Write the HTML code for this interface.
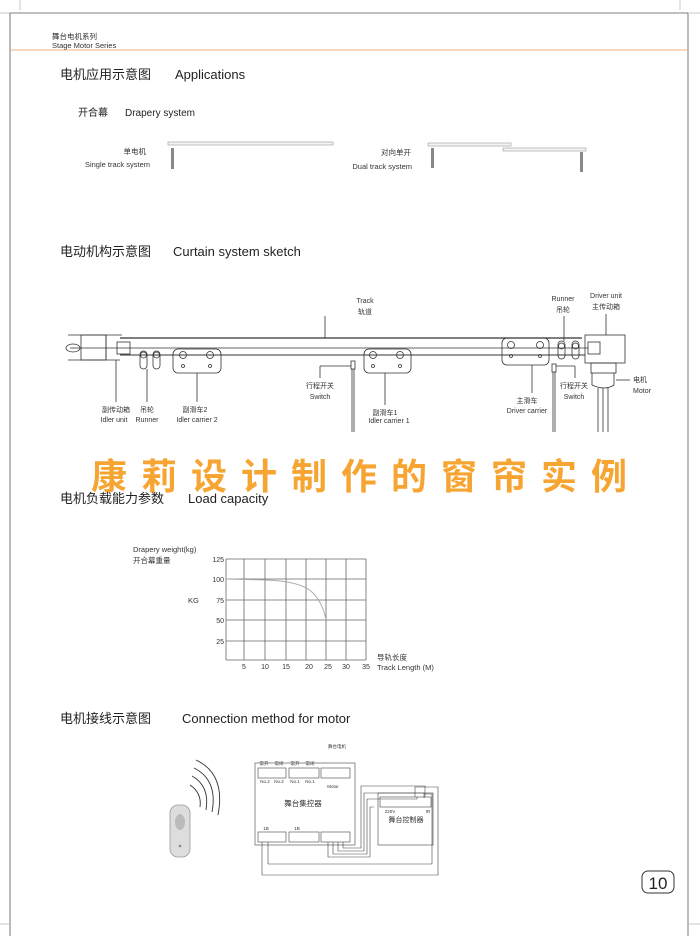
<!DOCTYPE html>
<html><head><meta charset="utf-8"><style>
html,body{margin:0;padding:0;background:#fff;}
svg{display:block;font-family:"Liberation Sans","Noto Sans CJK SC",sans-serif;}
</style></head><body>
<svg width="700" height="936" viewBox="0 0 700 936" xmlns="http://www.w3.org/2000/svg">
<rect width="700" height="936" fill="#fff"/>
<g stroke="#555" stroke-width="0.8" fill="none">
<line x1="10" y1="13" x2="688" y2="13"/>
<line x1="10" y1="13" x2="10" y2="936"/>
<line x1="688" y1="13" x2="688" y2="936"/>
<line x1="0" y1="13" x2="10" y2="13" stroke="#bbb"/>
<line x1="688" y1="13" x2="700" y2="13" stroke="#bbb"/>
<line x1="20" y1="0" x2="20" y2="10" stroke="#bbb"/>
<line x1="680" y1="0" x2="680" y2="10" stroke="#bbb"/>
<line x1="0" y1="924" x2="10" y2="924" stroke="#bbb"/>
<line x1="688" y1="924" x2="700" y2="924" stroke="#bbb"/>
</g>
<line x1="10" y1="50" x2="688" y2="50" stroke="#f2b27a" stroke-width="1"/>
<text x="52" y="39" font-size="7.5" fill="#333">舞台电机系列</text>
<text x="52" y="48" font-size="7.5" fill="#333">Stage Motor Series</text>

<text x="60" y="79" font-size="13" fill="#222">电机应用示意图</text>
<text x="175" y="79" font-size="13" fill="#222">Applications</text>
<text x="78" y="116" font-size="10" fill="#222">开合幕</text>
<text x="125" y="116" font-size="10" fill="#222">Drapery system</text>
<text x="146" y="154" font-size="7.5" fill="#333" text-anchor="end">单电机</text>
<text x="150" y="167" font-size="7.5" fill="#333" text-anchor="end">Single track system</text>
<rect x="168" y="142" width="165" height="3" fill="#f4f4f4" stroke="#999" stroke-width="0.6"/>
<rect x="171" y="148" width="3" height="21" fill="#888"/>
<text x="411" y="155" font-size="7.5" fill="#333" text-anchor="end">对向单开</text>
<text x="412" y="169" font-size="7.5" fill="#333" text-anchor="end">Dual track system</text>
<rect x="428" y="143" width="83" height="3" fill="#f4f4f4" stroke="#999" stroke-width="0.6"/>
<rect x="503" y="148" width="83" height="3" fill="#f4f4f4" stroke="#999" stroke-width="0.6"/>
<rect x="431" y="148" width="3" height="20" fill="#888"/>
<rect x="580" y="152" width="3" height="20" fill="#888"/>

<text x="60" y="256" font-size="13" fill="#222">电动机构示意图</text>
<text x="173" y="256" font-size="13" fill="#222">Curtain system sketch</text>
<g stroke="#333" stroke-width="0.8" fill="none">
<line x1="68" y1="335" x2="122" y2="335"/>
<line x1="120" y1="338" x2="582" y2="338" stroke-width="1.2"/>
<line x1="68" y1="360" x2="120" y2="360"/>
<line x1="120" y1="348" x2="588" y2="348"/>
<line x1="120" y1="355" x2="585" y2="355" stroke-width="1.1"/>
<line x1="70" y1="348" x2="120" y2="348"/>
<rect x="81" y="335" width="25" height="25"/>
<line x1="106" y1="335" x2="106" y2="360"/>
<ellipse cx="73" cy="348" rx="7" ry="4"/>
<rect x="117" y="342" width="13" height="12"/>
<rect x="585" y="335" width="40" height="28"/>
<rect x="588" y="342" width="12" height="12"/>
<rect x="591" y="363" width="25" height="10"/>
<path d="M592 373 v12 q13 6 22 0 v-12"/>
<line x1="598" y1="388" x2="598" y2="432"/><line x1="603" y1="388" x2="603" y2="432"/><line x1="608" y1="388" x2="608" y2="432"/>
<line x1="616" y1="380" x2="630" y2="380"/>
<rect x="140" y="351" width="7" height="18" rx="3.5"/><circle cx="143.5" cy="355" r="3"/>
<rect x="153" y="351" width="7" height="18" rx="3.5"/><circle cx="156.5" cy="355" r="3"/>
<rect x="173" y="349" width="48" height="24" rx="5"/><circle cx="183" cy="355" r="3.5"/><circle cx="210" cy="355" r="3.5"/><circle cx="183" cy="366" r="1.5"/><circle cx="210" cy="366" r="1.5"/>
<rect x="364" y="349" width="47" height="24" rx="5"/><circle cx="373" cy="355" r="3.5"/><circle cx="400" cy="355" r="3.5"/><circle cx="373" cy="366" r="1.5"/><circle cx="400" cy="366" r="1.5"/>
<rect x="502" y="338" width="47" height="27" rx="5"/><circle cx="511" cy="345" r="3.5"/><circle cx="540" cy="345" r="3.5"/><circle cx="511" cy="356" r="1.5"/><circle cx="540" cy="356" r="1.5"/>
<rect x="558" y="341" width="7" height="18" rx="3.5"/><circle cx="561.5" cy="346" r="3"/>
<rect x="572" y="341" width="7" height="18" rx="3.5"/><circle cx="575.5" cy="346" r="3"/>
<rect x="351" y="361" width="4" height="8"/><line x1="352" y1="369" x2="352" y2="432"/><line x1="354" y1="369" x2="354" y2="432"/>
<rect x="552" y="364" width="4" height="8"/><line x1="553" y1="372" x2="553" y2="432"/><line x1="555" y1="372" x2="555" y2="432"/>
<line x1="325" y1="316" x2="325" y2="338"/>
<line x1="116" y1="360" x2="116" y2="402"/>
<line x1="147" y1="369" x2="147" y2="402"/>
<line x1="197" y1="373" x2="197" y2="402"/>
<line x1="385" y1="373" x2="385" y2="405"/>
<line x1="532" y1="365" x2="532" y2="393"/>
<line x1="564" y1="316" x2="564" y2="341"/>
<line x1="606" y1="314" x2="606" y2="335"/>
<line x1="320" y1="366" x2="351" y2="366"/><line x1="320" y1="366" x2="320" y2="378"/>
<line x1="556" y1="366" x2="575" y2="366"/><line x1="575" y1="366" x2="575" y2="378"/>
</g>
<g font-size="7" fill="#333" text-anchor="middle">
<text x="365" y="303">Track</text><text x="365" y="314">轨道</text>
<text x="563" y="301">Runner</text><text x="563" y="312">吊轮</text>
<text x="606" y="298">Driver unit</text><text x="606" y="309">主传动箱</text>
<text x="640" y="382">电机</text><text x="642" y="393">Motor</text>
<text x="116" y="412">副传动箱</text><text x="114" y="422">Idler unit</text>
<text x="147" y="412">吊轮</text><text x="147" y="422">Runner</text>
<text x="195" y="412">副滑车2</text><text x="197" y="422">Idler carrier 2</text>
<text x="320" y="388">行程开关</text><text x="320" y="399">Switch</text>
<text x="385" y="415">副滑车1</text><text x="389" y="423">Idler carrier 1</text>
<text x="527" y="403">主滑车</text><text x="527" y="413">Driver carrier</text>
<text x="574" y="388">行程开关</text><text x="574" y="399">Switch</text>
</g>

<text x="366" y="489" font-size="36" font-weight="bold" fill="#f7a532" text-anchor="middle" letter-spacing="14" font-family="'Noto Sans CJK SC',sans-serif">康莉设计制作的窗帘实例</text>

<text x="60" y="503" font-size="13" fill="#222">电机负载能力参数</text>
<text x="188" y="503" font-size="13" fill="#222">Load capacity</text>
<text x="133" y="552" font-size="7.5" fill="#333">Drapery weight(kg)</text>
<text x="133" y="563" font-size="7.5" fill="#333">开合幕重量</text>
<text x="188" y="603" font-size="7.5" fill="#333">KG</text>
<g stroke="#666" stroke-width="0.8">
<line x1="226" y1="559" x2="366" y2="559"/><line x1="226" y1="579" x2="366" y2="579"/><line x1="226" y1="600" x2="366" y2="600"/><line x1="226" y1="620" x2="366" y2="620"/><line x1="226" y1="641" x2="366" y2="641"/><line x1="226" y1="660" x2="366" y2="660"/>
<line x1="226" y1="559" x2="226" y2="660"/><line x1="244" y1="559" x2="244" y2="660"/><line x1="265" y1="559" x2="265" y2="660"/><line x1="286" y1="559" x2="286" y2="660"/><line x1="306" y1="559" x2="306" y2="660"/><line x1="326" y1="559" x2="326" y2="660"/><line x1="346" y1="559" x2="346" y2="660"/><line x1="366" y1="559" x2="366" y2="660"/>
</g>
<path d="M226 579 L265 580 Q300 581 312 592 Q323 603 326 620" stroke="#aaa" fill="none" stroke-width="0.9"/>
<g font-size="7" fill="#333" text-anchor="end">
<text x="224" y="562">125</text><text x="224" y="582">100</text><text x="224" y="603">75</text><text x="224" y="623">50</text><text x="224" y="644">25</text>
</g>
<g font-size="7" fill="#333" text-anchor="middle">
<text x="244" y="669">5</text><text x="265" y="669">10</text><text x="286" y="669">15</text><text x="309" y="669">20</text><text x="328" y="669">25</text><text x="346" y="669">30</text><text x="366" y="669">35</text>
</g>
<text x="377" y="660" font-size="7.5" fill="#333">导轨长度</text>
<text x="377" y="670" font-size="7.5" fill="#333">Track Length (M)</text>

<text x="60" y="723" font-size="13" fill="#222">电机接线示意图</text>
<text x="182" y="723" font-size="13" fill="#222">Connection method for motor</text>
<rect x="170" y="805" width="20" height="52" rx="8" fill="#ddd" stroke="#999" stroke-width="0.8"/>
<ellipse cx="180" cy="822" rx="5" ry="8" fill="#bbb"/>
<circle cx="180" cy="846" r="1.3" fill="#888"/>
<g stroke="#333" stroke-width="0.9" fill="none">
<path d="M190 785 q12 8 10 22"/><path d="M192 776 q18 10 14 34"/><path d="M194 768 q24 12 18 44"/><path d="M196 760 q30 14 22 55"/>
</g>
<g stroke="#444" stroke-width="0.6" fill="none">
<rect x="255" y="763" width="100" height="82"/>
<rect x="258" y="768" width="28" height="10"/><rect x="289" y="768" width="30" height="10"/><rect x="321" y="768" width="29" height="10"/>
<rect x="258" y="832" width="28" height="10"/><rect x="289" y="832" width="30" height="10"/><rect x="321" y="832" width="29" height="10"/>
<rect x="378" y="793" width="55" height="52"/>
<rect x="380" y="797" width="51" height="10"/>
<path d="M328 842 v15 h42 v-50 h4"/>
<path d="M333 842 v12 h34 v-55 h50 v-2"/>
<path d="M338 842 v9 h26 v-58 h60 v5"/>
<path d="M343 842 v6 h18 v-62 h64 v11"/>
<path d="M262 842 v33 h176 v-88 h-23 v10"/>
<path d="M268 842 v22 h164 v-70 h-8"/>
</g>
<g font-size="4.5" fill="#333" text-anchor="middle">
<text x="337" y="748">舞台电机</text>
<text x="264" y="765">常开</text><text x="279" y="765">常闭</text><text x="295" y="765">常开</text><text x="310" y="765">常闭</text>
<text x="265" y="783">No.2</text><text x="279" y="783">No.2</text><text x="295" y="783">No.1</text><text x="310" y="783">No.1</text>
<text x="333" y="788">Motor</text>
<text x="266" y="830">1B</text><text x="297" y="830">1B</text>
<text x="390" y="813">220V</text><text x="428" y="813">IR</text>
</g>
<text x="303" y="806" font-size="7.5" fill="#333" text-anchor="middle">舞台集控器</text>
<text x="406" y="822" font-size="7" fill="#333" text-anchor="middle">舞台控制器</text>

<rect x="642" y="871" width="32" height="22" rx="6" fill="#fff" stroke="#333" stroke-width="1"/>
<text x="658" y="889" font-size="17" fill="#222" text-anchor="middle">10</text>
</svg>
</body></html>
